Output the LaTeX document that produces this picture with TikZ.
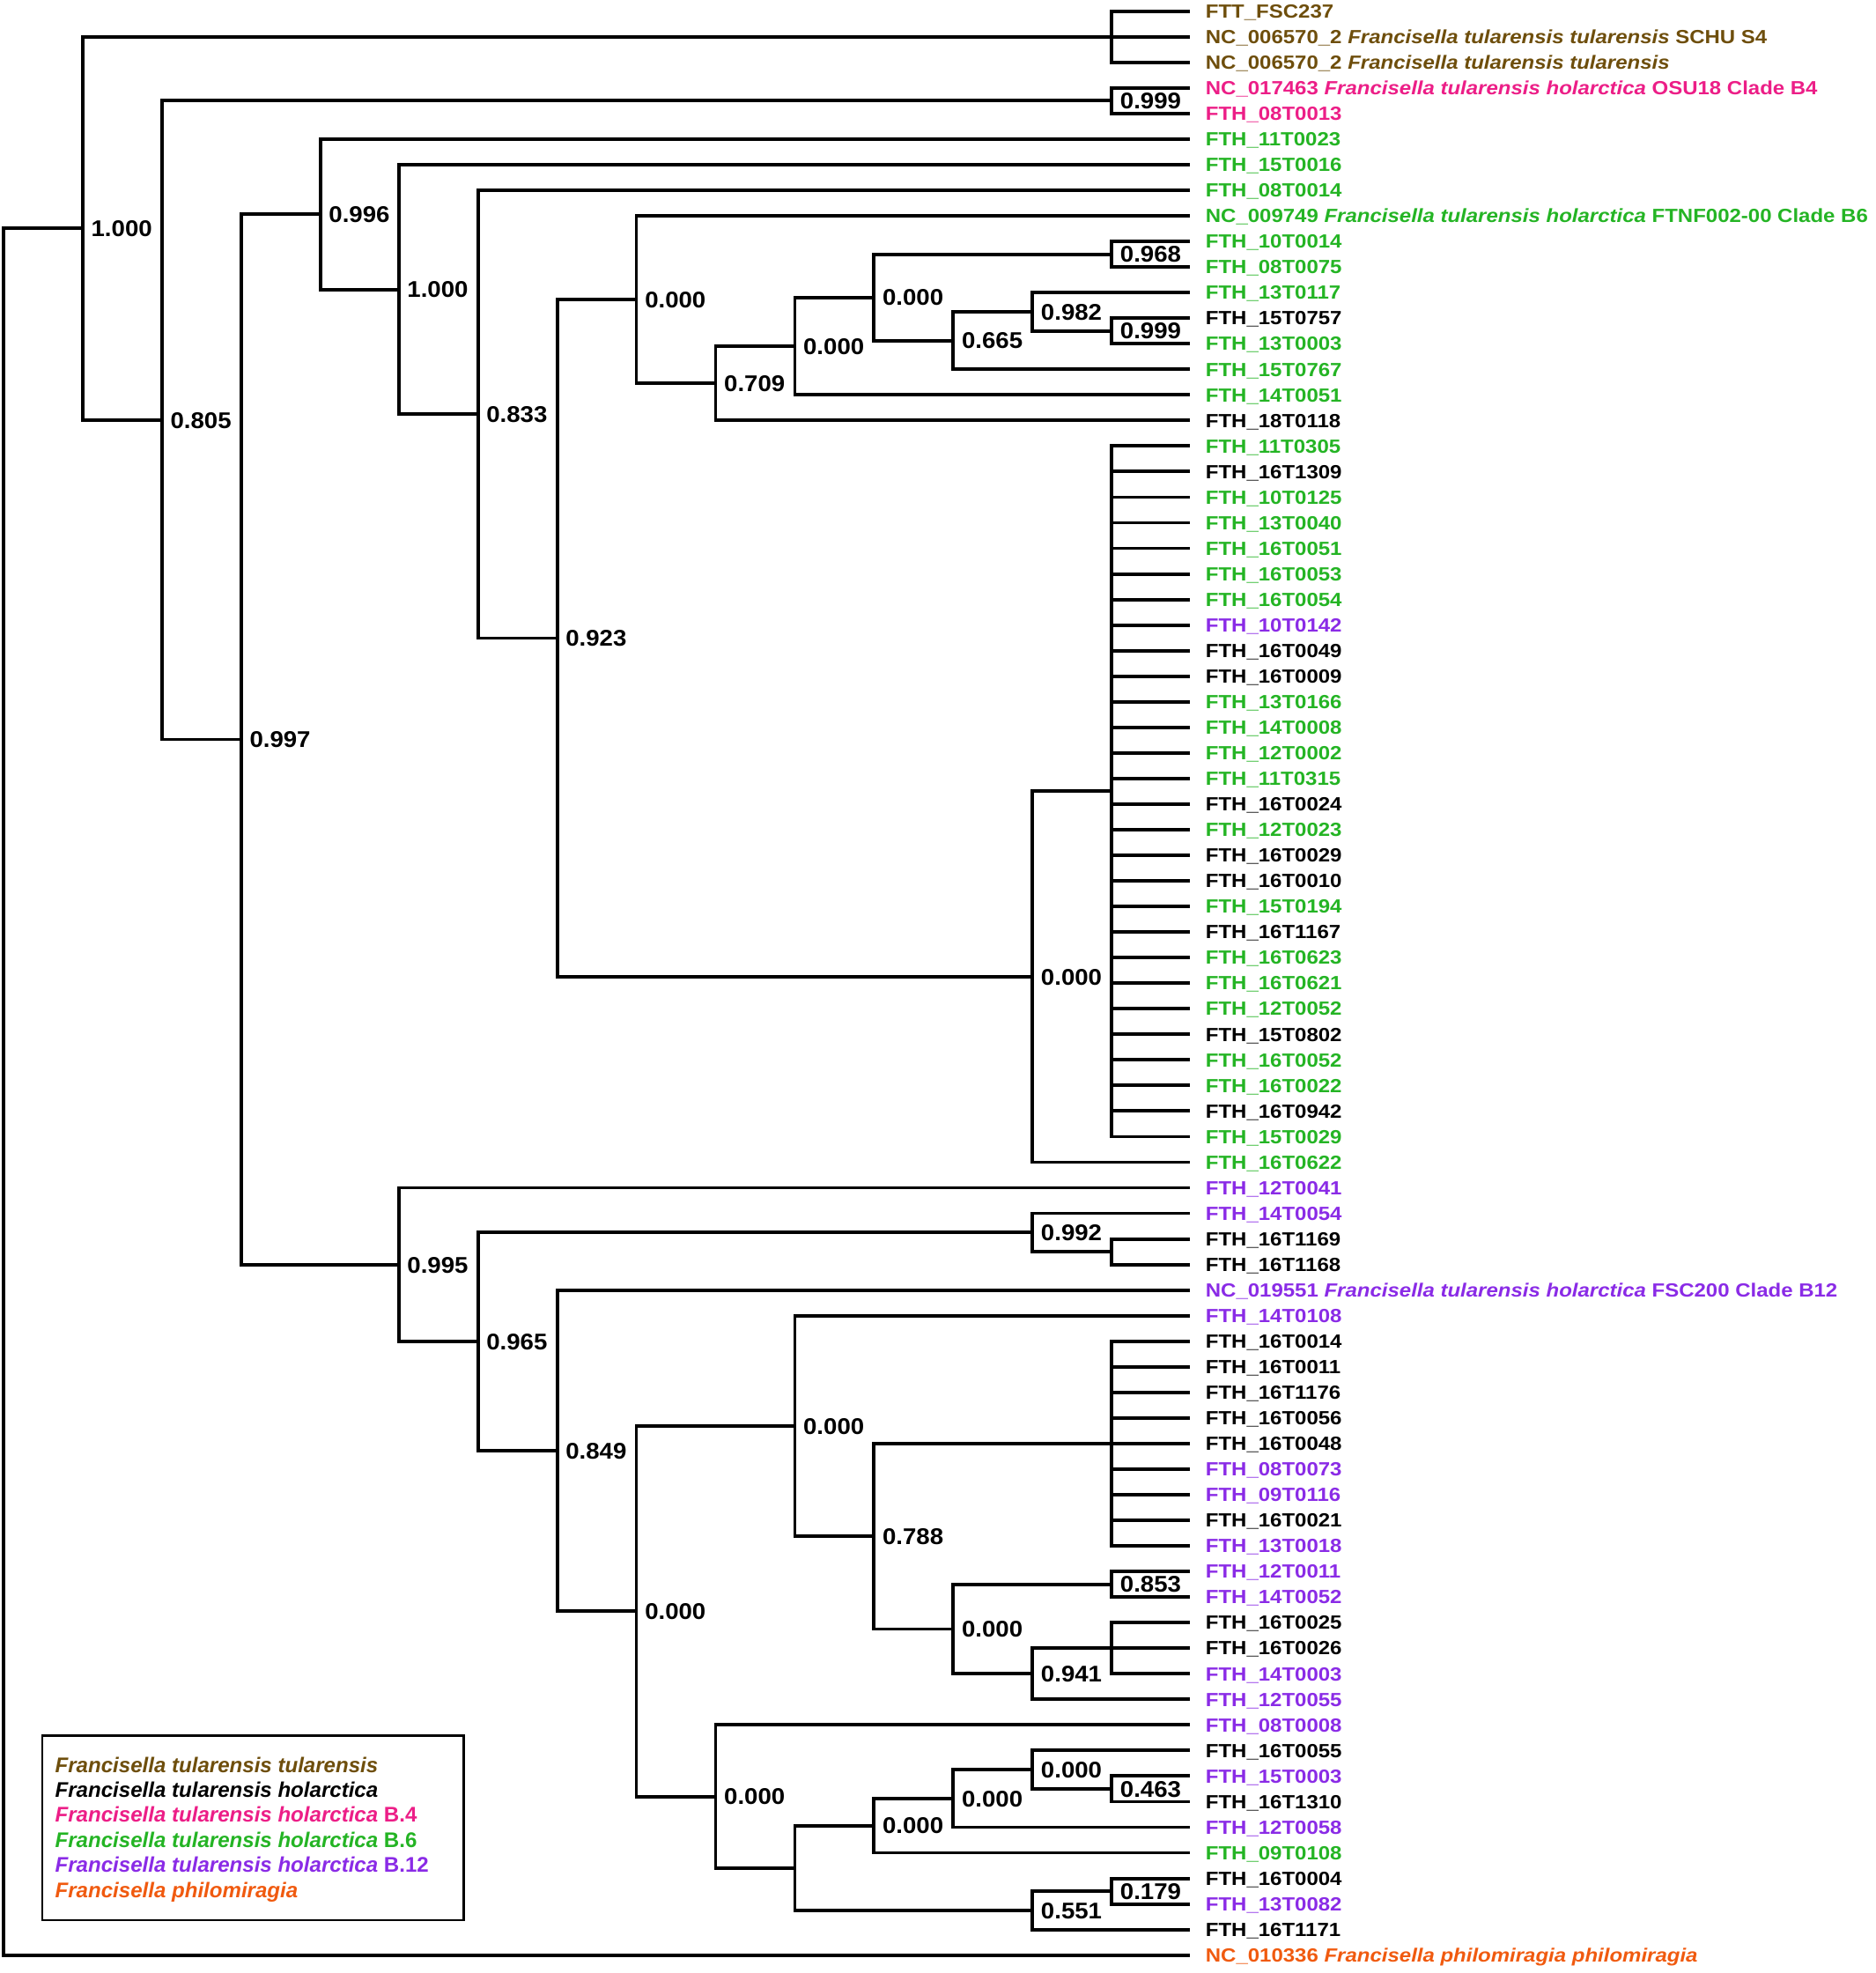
\documentclass[tikz,border=0pt]{standalone}
\usepackage{fontspec}
\setmainfont{Liberation Sans}
\newfontfamily\tipfont{Liberation Sans}[FakeStretch=1.11]
\newfontfamily\suppfont{Liberation Sans}[FakeStretch=1.07]
\usepackage{tikz}

\definecolor{ftt}{RGB}{110,78,12}
\definecolor{bfour}{RGB}{236,30,135}
\definecolor{bsix}{RGB}{36,180,36}
\definecolor{btw}{RGB}{138,43,230}
\definecolor{phil}{RGB}{240,90,15}

\tikzset{
	leafname/.style={anchor=base west, inner sep=0pt, xshift=0.17cm, yshift=-0.0775cm, text=black,
		font=\tipfont\bfseries\fontsize{6.15pt}{7pt}\selectfont},
	support/.style={anchor=base west, inner sep=0pt, xshift=0.09cm, yshift=-0.0925cm,
		font=\suppfont\bfseries\fontsize{7.34pt}{8pt}\selectfont},
	keyline/.style={anchor=base west, inner sep=0pt,
		font=\bfseries\itshape\fontsize{6.85pt}{8pt}\selectfont}
}

\begin{document}
\begin{tikzpicture}[x=0.01cm, y=-0.2904cm, every edge/.style={draw, line width=1.1pt, to path={|- (\tikztotarget)}}]
			\useasboundingbox (0,0.5627) rectangle (2131,77.70);
			
			% leaf ends
			\foreach \i in {1,...,77} \coordinate (l\i) at (1352,\i);
			
			% inner nodes
			\coordinate (root) at (4,43.247);
			\coordinate (A) at (94,9.493);
			\coordinate (T) at (1263,2);
			\coordinate (B) at (184,16.986);
			\coordinate (B4) at (1263,4.5);
			\coordinate (C) at (274,29.473);
			\coordinate (D) at (364,8.939);
			\coordinate (F) at (453,11.878);
			\coordinate (G) at (543,16.756);
			\coordinate (H) at (633,25.512);
			\coordinate (I) at (723,12.273);
			\coordinate (K) at (813,15.547);
			\coordinate (L) at (903,14.094);
			\coordinate (M) at (993,12.188);
			\coordinate (N) at (1263,10.5);
			\coordinate (O) at (1083,13.875);
			\coordinate (P) at (1173,12.75);
			\coordinate (Q) at (1263,13.5);
			\coordinate (J) at (1173,38.75);
			\coordinate (R) at (1263,31.5);
			\coordinate (E) at (453,50.007);
			\coordinate (S) at (543,53.014);
			\coordinate (U) at (1173,48.75);
			\coordinate (W) at (1263,49.5);
			\coordinate (V) at (633,57.277);
			\coordinate (X) at (723,63.555);
			\coordinate (Y) at (903,56.313);
			\coordinate (AA) at (993,60.625);
			\coordinate (BB) at (1263,57);
			\coordinate (CC) at (1083,64.25);
			\coordinate (DD) at (1263,62.5);
			\coordinate (EE) at (1173,66);
			\coordinate (FF) at (1263,65);
			\coordinate (Z) at (813,70.797);
			\coordinate (GG) at (903,73.594);
			\coordinate (HH) at (993,71.938);
			\coordinate (JJ) at (1083,70.875);
			\coordinate (KK) at (1173,69.75);
			\coordinate (LL) at (1263,70.5);
			\coordinate (II) at (1173,75.25);
			\coordinate (MM) at (1263,74.5);
			
			% branches
			\path (root) edge (A) edge (l77);
			\path (A) edge (T) edge (B);
			\path (T) edge (l1) edge (l2) edge (l3);
			\path (B) edge (B4) edge (C);
			\path (B4) edge (l4) edge (l5);
			\path (C) edge (D) edge (E);
			\path (D) edge (l6) edge (F);
			\path (F) edge (l7) edge (G);
			\path (G) edge (l8) edge (H);
			\path (H) edge (I) edge (J);
			\path (I) edge (l9) edge (K);
			\path (K) edge (L) edge (l17);
			\path (L) edge (M) edge (l16);
			\path (M) edge (N) edge (O);
			\path (N) edge (l10) edge (l11);
			\path (O) edge (P) edge (l15);
			\path (P) edge (l12) edge (Q);
			\path (Q) edge (l13) edge (l14);
			\path (J) edge (R) edge (l46);
			\foreach \i in {18,...,45} \path (R) edge (l\i);
			\path (E) edge (l47) edge (S);
			\path (S) edge (U) edge (V);
			\path (U) edge (l48) edge (W);
			\path (W) edge (l49) edge (l50);
			\path (V) edge (l51) edge (X);
			\path (X) edge (Y) edge (Z);
			\path (Y) edge (l52) edge (AA);
			\path (AA) edge (BB) edge (CC);
			\foreach \i in {53,...,61} \path (BB) edge (l\i);
			\path (CC) edge (DD) edge (EE);
			\path (DD) edge (l62) edge (l63);
			\path (EE) edge (FF) edge (l67);
			\path (FF) edge (l64) edge (l65) edge (l66);
			\path (Z) edge (l68) edge (GG);
			\path (GG) edge (HH) edge (II);
			\path (HH) edge (JJ) edge (l73);
			\path (JJ) edge (KK) edge (l72);
			\path (KK) edge (l69) edge (LL);
			\path (LL) edge (l70) edge (l71);
			\path (II) edge (MM) edge (l76);
			\path (MM) edge (l74) edge (l75);
			
			% support values
			\node[support] (sA) at (A) {1.000};
			\node[support] (sB) at (B) {0.805};
			\node[support] (sB4) at (B4) {0.999};
			\node[support] (sC) at (C) {0.997};
			\node[support] (sD) at (D) {0.996};
			\node[support] (sF) at (F) {1.000};
			\node[support] (sG) at (G) {0.833};
			\node[support] (sH) at (H) {0.923};
			\node[support] (sI) at (I) {0.000};
			\node[support] (sK) at (K) {0.709};
			\node[support] (sL) at (L) {0.000};
			\node[support] (sM) at (M) {0.000};
			\node[support] (sN) at (N) {0.968};
			\node[support] (sO) at (O) {0.665};
			\node[support] (sP) at (P) {0.982};
			\node[support] (sQ) at (Q) {0.999};
			\node[support] (sJ) at (J) {0.000};
			\node[support] (sE) at (E) {0.995};
			\node[support] (sS) at (S) {0.965};
			\node[support] (sU) at (U) {0.992};
			\node[support] (sV) at (V) {0.849};
			\node[support] (sX) at (X) {0.000};
			\node[support] (sY) at (Y) {0.000};
			\node[support] (sAA) at (AA) {0.788};
			\node[support] (sCC) at (CC) {0.000};
			\node[support] (sDD) at (DD) {0.853};
			\node[support] (sEE) at (EE) {0.941};
			\node[support] (sZ) at (Z) {0.000};
			\node[support] (sHH) at (HH) {0.000};
			\node[support] (sJJ) at (JJ) {0.000};
			\node[support] (sKK) at (KK) {0.000};
			\node[support] (sLL) at (LL) {0.463};
			\node[support] (sII) at (II) {0.551};
			\node[support] (sMM) at (MM) {0.179};
			
			% taxa
			\node[leafname, text=ftt] (t1) at (l1) {FTT\_FSC237};
			\node[leafname, text=ftt] (t2) at (l2) {NC\_006570\_2 \textit{Francisella tularensis tularensis} SCHU S4};
			\node[leafname, text=ftt] (t3) at (l3) {NC\_006570\_2 \textit{Francisella tularensis tularensis}};
			\node[leafname, text=bfour] (t4) at (l4) {NC\_017463 \textit{Francisella tularensis holarctica} OSU18 Clade B4};
			\node[leafname, text=bfour] (t5) at (l5) {FTH\_08T0013};
			\node[leafname, text=bsix] (t6) at (l6) {FTH\_11T0023};
			\node[leafname, text=bsix] (t7) at (l7) {FTH\_15T0016};
			\node[leafname, text=bsix] (t8) at (l8) {FTH\_08T0014};
			\node[leafname, text=bsix] (t9) at (l9) {NC\_009749 \textit{Francisella tularensis holarctica} FTNF002-00 Clade B6};
			\node[leafname, text=bsix] (t10) at (l10) {FTH\_10T0014};
			\node[leafname, text=bsix] (t11) at (l11) {FTH\_08T0075};
			\node[leafname, text=bsix] (t12) at (l12) {FTH\_13T0117};
			\node[leafname] (t13) at (l13) {FTH\_15T0757};
			\node[leafname, text=bsix] (t14) at (l14) {FTH\_13T0003};
			\node[leafname, text=bsix] (t15) at (l15) {FTH\_15T0767};
			\node[leafname, text=bsix] (t16) at (l16) {FTH\_14T0051};
			\node[leafname] (t17) at (l17) {FTH\_18T0118};
			\node[leafname, text=bsix] (t18) at (l18) {FTH\_11T0305};
			\node[leafname] (t19) at (l19) {FTH\_16T1309};
			\node[leafname, text=bsix] (t20) at (l20) {FTH\_10T0125};
			\node[leafname, text=bsix] (t21) at (l21) {FTH\_13T0040};
			\node[leafname, text=bsix] (t22) at (l22) {FTH\_16T0051};
			\node[leafname, text=bsix] (t23) at (l23) {FTH\_16T0053};
			\node[leafname, text=bsix] (t24) at (l24) {FTH\_16T0054};
			\node[leafname, text=btw] (t25) at (l25) {FTH\_10T0142};
			\node[leafname] (t26) at (l26) {FTH\_16T0049};
			\node[leafname] (t27) at (l27) {FTH\_16T0009};
			\node[leafname, text=bsix] (t28) at (l28) {FTH\_13T0166};
			\node[leafname, text=bsix] (t29) at (l29) {FTH\_14T0008};
			\node[leafname, text=bsix] (t30) at (l30) {FTH\_12T0002};
			\node[leafname, text=bsix] (t31) at (l31) {FTH\_11T0315};
			\node[leafname] (t32) at (l32) {FTH\_16T0024};
			\node[leafname, text=bsix] (t33) at (l33) {FTH\_12T0023};
			\node[leafname] (t34) at (l34) {FTH\_16T0029};
			\node[leafname] (t35) at (l35) {FTH\_16T0010};
			\node[leafname, text=bsix] (t36) at (l36) {FTH\_15T0194};
			\node[leafname] (t37) at (l37) {FTH\_16T1167};
			\node[leafname, text=bsix] (t38) at (l38) {FTH\_16T0623};
			\node[leafname, text=bsix] (t39) at (l39) {FTH\_16T0621};
			\node[leafname, text=bsix] (t40) at (l40) {FTH\_12T0052};
			\node[leafname] (t41) at (l41) {FTH\_15T0802};
			\node[leafname, text=bsix] (t42) at (l42) {FTH\_16T0052};
			\node[leafname, text=bsix] (t43) at (l43) {FTH\_16T0022};
			\node[leafname] (t44) at (l44) {FTH\_16T0942};
			\node[leafname, text=bsix] (t45) at (l45) {FTH\_15T0029};
			\node[leafname, text=bsix] (t46) at (l46) {FTH\_16T0622};
			\node[leafname, text=btw] (t47) at (l47) {FTH\_12T0041};
			\node[leafname, text=btw] (t48) at (l48) {FTH\_14T0054};
			\node[leafname] (t49) at (l49) {FTH\_16T1169};
			\node[leafname] (t50) at (l50) {FTH\_16T1168};
			\node[leafname, text=btw] (t51) at (l51) {NC\_019551 \textit{Francisella tularensis holarctica} FSC200 Clade B12};
			\node[leafname, text=btw] (t52) at (l52) {FTH\_14T0108};
			\node[leafname] (t53) at (l53) {FTH\_16T0014};
			\node[leafname] (t54) at (l54) {FTH\_16T0011};
			\node[leafname] (t55) at (l55) {FTH\_16T1176};
			\node[leafname] (t56) at (l56) {FTH\_16T0056};
			\node[leafname] (t57) at (l57) {FTH\_16T0048};
			\node[leafname, text=btw] (t58) at (l58) {FTH\_08T0073};
			\node[leafname, text=btw] (t59) at (l59) {FTH\_09T0116};
			\node[leafname] (t60) at (l60) {FTH\_16T0021};
			\node[leafname, text=btw] (t61) at (l61) {FTH\_13T0018};
			\node[leafname, text=btw] (t62) at (l62) {FTH\_12T0011};
			\node[leafname, text=btw] (t63) at (l63) {FTH\_14T0052};
			\node[leafname] (t64) at (l64) {FTH\_16T0025};
			\node[leafname] (t65) at (l65) {FTH\_16T0026};
			\node[leafname, text=btw] (t66) at (l66) {FTH\_14T0003};
			\node[leafname, text=btw] (t67) at (l67) {FTH\_12T0055};
			\node[leafname, text=btw] (t68) at (l68) {FTH\_08T0008};
			\node[leafname] (t69) at (l69) {FTH\_16T0055};
			\node[leafname, text=btw] (t70) at (l70) {FTH\_15T0003};
			\node[leafname] (t71) at (l71) {FTH\_16T1310};
			\node[leafname, text=btw] (t72) at (l72) {FTH\_12T0058};
			\node[leafname, text=bsix] (t73) at (l73) {FTH\_09T0108};
			\node[leafname] (t74) at (l74) {FTH\_16T0004};
			\node[leafname, text=btw] (t75) at (l75) {FTH\_13T0082};
			\node[leafname] (t76) at (l76) {FTH\_16T1171};
			\node[leafname, text=phil] (t77) at (l77) {NC\_010336 \textit{Francisella philomiragia philomiragia}};
			
			% legend
			\coordinate (k1) at (48,68.43);
			\coordinate (k2) at (527,75.63);
			\draw[line width=0.8pt] (k1) rectangle (k2);
			\node[keyline, text=ftt] (key1) at (62,69.86) {Francisella tularensis tularensis};
			\node[keyline] (key2) at (62,70.83) {Francisella tularensis holarctica};
			\node[keyline, text=bfour] (key3) at (62,71.81) {Francisella tularensis holarctica \upshape B.4};
			\node[keyline, text=bsix] (key4) at (62,72.79) {Francisella tularensis holarctica \upshape B.6};
			\node[keyline, text=btw] (key5) at (62,73.77) {Francisella tularensis holarctica \upshape B.12};
			\node[keyline, text=phil] (key6) at (62,74.75) {Francisella philomiragia};
			\end{tikzpicture}
\end{document}
